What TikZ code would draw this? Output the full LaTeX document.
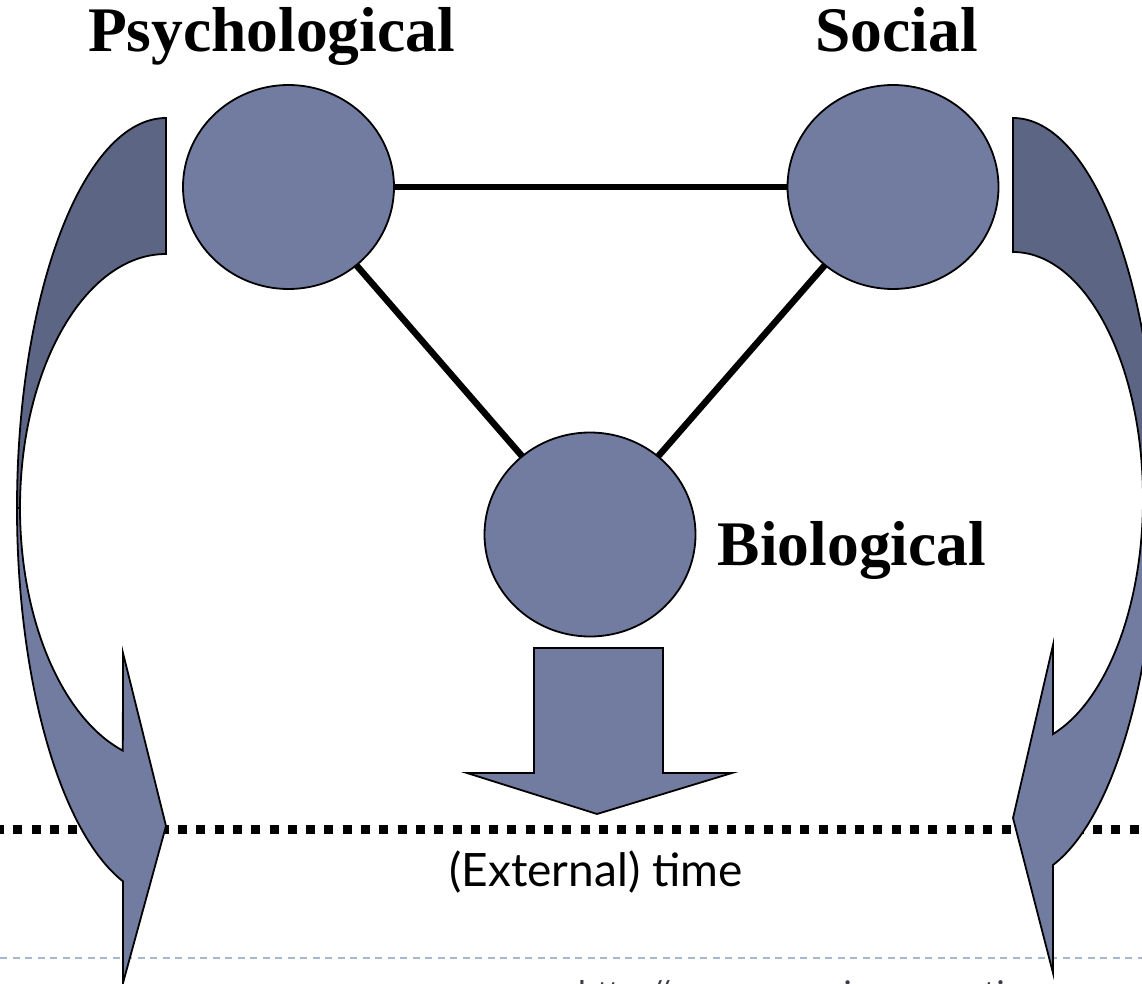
\documentclass[tikz,border=0pt]{standalone}
\usepackage{fontspec}
\setmainfont{Liberation Serif}
\newfontfamily\gillish{Lato}
\usetikzlibrary{shapes.geometric,backgrounds}
\definecolor{nodeblue}{RGB}{114,124,161}
\definecolor{backblue}{RGB}{92,101,131}
\definecolor{dashgray}{RGB}{166,184,204}
\definecolor{urlgray}{RGB}{60,60,72}
\begin{document}
\begin{tikzpicture}[x=1pt,y=-1pt,
  blob/.style={ellipse, draw=black, line width=1.8pt, fill=nodeblue,
    minimum width=211pt, minimum height=204pt, inner sep=0pt},
  link/.style={draw=black, line width=6.5pt},
  front/.style={draw=black, line width=1.8pt, fill=nodeblue, line join=miter},
  back/.style={draw=black, line width=1.8pt, fill=backblue},
  title/.style={font=\bfseries\fontsize{63.5}{70}\selectfont, inner sep=0pt},
  timeline/.style={draw=black, line width=9.5pt, dash pattern=on 9pt off 9.3pt},
  pageline/.style={draw=dashgray, line width=2pt, dash pattern=on 7pt off 5.5pt}]
\useasboundingbox (0,0) rectangle (1142,984);

% dotted time line
\coordinate (tl) at (-5,829.5);
\coordinate (tr) at (1150,829.5);
\draw[timeline] (tl) -- (tr);

% page separator
\coordinate (pl) at (0,958);
\coordinate (pr) at (1142,958);
\draw[pageline] (pl) -- (pr);

% left curved arrow
\draw[back] (166,118) arc[start angle=270, end angle=180, x radius=149, y radius=390]
  -- (20,508) arc[start angle=180, end angle=270, x radius=146, y radius=254] -- cycle;
\draw[front] (17,508) arc[start angle=180, end angle=106.8, x radius=149, y radius=390]
  -- (123,983) -- (166,826) -- (123,653)
  -- ([shift={(166,508)}]107.2:146 and 254)
  arc[start angle=107.2, end angle=180, x radius=146, y radius=254] -- cycle;

% right curved arrow
\draw[back] (1013,118) arc[start angle=270, end angle=360, x radius=144, y radius=381]
  -- (1143,499) arc[start angle=360, end angle=270, x radius=130, y radius=247] -- cycle;
\draw[front] (1157,499) arc[start angle=0, end angle=73.85, x radius=144, y radius=381]
  -- (1053,973) -- (1013,818) -- (1053,645)
  -- ([shift={(1013,499)}]72.1:130 and 247)
  arc[start angle=72.1, end angle=0, x radius=130, y radius=247] -- cycle;

% down arrow
\draw[front] (534,648) -- (663,648) -- (663,773) -- (732,773) -- (597,814)
  -- (467,773) -- (534,773) -- cycle;

% circles
\node[blob] (psy) at (288.5,187) {};
\node[blob] (soc) at (893,187) {};
\node[blob] (bio) at (590,534.5) {};
\begin{scope}[on background layer]
  \draw[link] (psy.center) -- (soc.center);
  \draw[link] (psy.center) -- (bio.center);
  \draw[link] (soc.center) -- (bio.center);
\end{scope}

% labels
\node[title, anchor=base] (tpsy) at (271.5,52) {Psychological};
\node[title, anchor=base] (tsoc) at (896.5,52) {Social};
\node[title, anchor=base] (tbio) at (852,565) {Biological};
\node[anchor=base, inner sep=0pt, font=\gillish\fontsize{46}{52}\selectfont] (time) at (596,886) {(External) time};
\node[anchor=base west, inner sep=0pt, text=urlgray, font=\gillish\fontsize{34}{40}\selectfont] (url) at (578,1005) {http://www.consciousness-time.org};
\end{tikzpicture}
\end{document}
